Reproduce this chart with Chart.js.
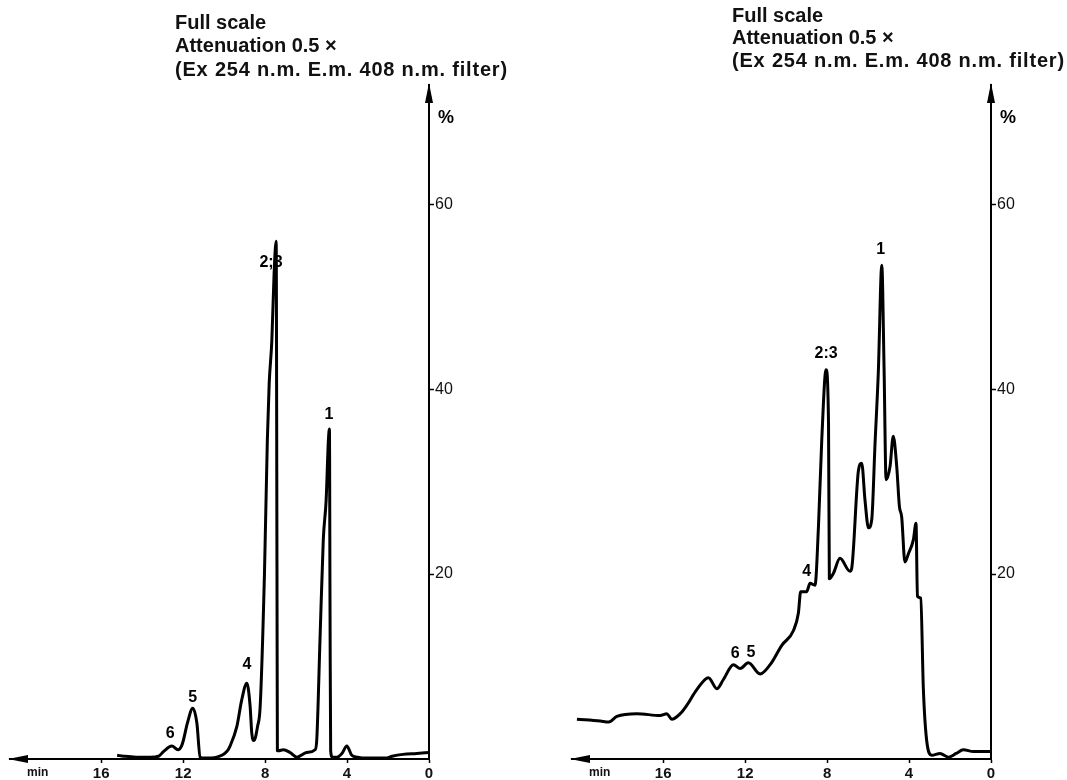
<!DOCTYPE html>
<html lang="en">
<head>
<meta charset="utf-8">
<title>Cromatogramas</title>
<script src="https://cdn.jsdelivr.net/npm/chart.js@4.4.1/dist/chart.umd.min.js"></script>
<style>
  html, body { margin: 0; padding: 0; background: #ffffff; }
  body { position: relative; width: 1067px; height: 780px; overflow: hidden; font-family: 'Liberation Sans', Arial, sans-serif; color: #111; }
  canvas { position: absolute; top: 0; }
  #graficoEsq { left: 0; }
  #graficoDir { left: 533px; }
  .titulo { position: absolute; margin: 0; font-size: 20px; font-weight: bold; line-height: 1; white-space: nowrap; }
  .titulo.filtro { letter-spacing: 0.8px; }
</style>
</head>
<body>
<canvas id="graficoEsq" width="533" height="780"></canvas>
<canvas id="graficoDir" width="534" height="780"></canvas>
<div id="tituloEsq"></div>
<div id="tituloDir"></div>

<script>
const tempoEsq = [0.0, 0.6, 1.27, 1.8, 2.11, 2.7, 3.04, 3.5, 3.77, 4.01, 4.25, 4.50, 4.72, 4.80, 4.83, 4.86, 4.91, 5.02, 5.16, 5.32, 5.48, 5.56, 5.97, 6.45, 6.78, 7.11, 7.35, 7.40, 7.42, 7.46, 7.56, 7.67, 7.80, 7.89, 8.03, 8.24, 8.37, 8.54, 8.65, 8.73, 8.89, 9.14, 9.38, 9.71, 9.87, 10.36, 11.01, 11.17, 11.33, 11.53, 11.79, 11.99, 12.08, 12.25, 12.55, 12.96, 13.2, 13.61, 14.3, 14.9, 15.22];
const sinalEsq = [0.7, 0.6, 0.5, 0.3, 0.1, 0.1, 0.1, 0.2, 0.4, 1.4, 0.6, 0.2, 0.2, 0.9, 15.9, 35.7, 34.5, 28.0, 23.7, 12.9, 2.0, 1.0, 0.7, 0.2, 0.7, 1.0, 0.9, 0.9, 20.7, 56.0, 52.5, 45.3, 40.6, 34.5, 20.1, 5.7, 3.5, 2.0, 2.8, 5.7, 8.2, 6.4, 3.5, 1.4, 0.8, 0.2, 0.1, 0.2, 3.9, 5.5, 3.9, 2.0, 1.4, 1.0, 1.4, 0.8, 0.3, 0.2, 0.2, 0.3, 0.4];

const tempoDir = [0.0, 0.86, 1.35, 1.7, 2.08, 2.49, 2.89, 3.14, 3.30, 3.43, 3.59, 3.66, 3.79, 4.03, 4.20, 4.36, 4.47, 4.60, 4.77, 4.93, 5.12, 5.22, 5.33, 5.50, 5.66, 5.82, 5.98, 6.15, 6.31, 6.47, 6.80, 6.88, 7.37, 7.69, 7.89, 7.93, 8.05, 8.26, 8.42, 8.59, 8.83, 9.0, 9.29, 9.40, 9.64, 10.21, 10.78, 11.27, 11.84, 12.24, 12.57, 13.06, 13.38, 13.79, 14.36, 14.85, 15.17, 15.58, 15.82, 16.15, 17.28, 18.26, 18.66, 19.07, 20.21];
const sinalDir = [0.8, 0.8, 1.0, 0.6, 0.2, 0.6, 0.4, 2.0, 7.5, 17.4, 17.6, 25.5, 23.7, 22.2, 21.3, 26.2, 27.3, 31.6, 34.9, 31.6, 30.2, 42.4, 53.4, 41.8, 34.1, 25.9, 25.0, 28.0, 32.0, 31.2, 20.6, 20.3, 21.7, 20.1, 19.5, 36.3, 42.1, 34.5, 25.2, 18.8, 19.0, 18.1, 18.1, 15.8, 13.9, 12.3, 10.2, 9.2, 10.4, 9.8, 10.2, 8.6, 7.6, 8.8, 7.5, 5.8, 4.9, 4.3, 4.9, 4.7, 4.9, 4.6, 4.0, 4.1, 4.3];

// Marcas dos eixos
const ticksTempo = [0, 4, 8, 12, 16];
const tempoRotuloMin = 19.1;
const ticksPercent = [20, 40, 60];

// Picos numerados (nome, tempo, altura do texto em %)
const rotulosEsq = ['1', '2;3', '4', '5', '6'];
const tempoRotulosEsq = [4.88, 7.71, 8.89, 11.53, 12.63];
const alturaRotulosEsq = [37.2, 53.7, 10.2, 6.6, 2.8];

const rotulosDir = ['1', '2:3', '4', '5', '6'];
const tempoRotulosDir = [5.38, 8.05, 9.0, 11.71, 12.49];
const alturaRotulosDir = [55.1, 43.9, 20.3, 11.5, 11.4];

const linhasTitulo = ['Full scale', 'Attenuation 0.5 \u00d7', '(Ex 254 n.m. E.m. 408 n.m. filter)'];

const fonte = "'Liberation Sans', Arial, sans-serif";

// Setas dos eixos e o sinal de %
const pluginSetas = {
  id: 'setas',
  afterDraw(chart) {
    const { ctx, chartArea: area } = chart;
    ctx.save();
    ctx.fillStyle = '#000';
    ctx.beginPath();
    ctx.moveTo(area.left - 2, area.bottom);
    ctx.lineTo(area.left + 18, area.bottom - 4);
    ctx.lineTo(area.left + 18, area.bottom + 4);
    ctx.closePath();
    ctx.fill();

    ctx.beginPath();
    ctx.moveTo(area.right, area.top - 2);
    ctx.lineTo(area.right - 4, area.top + 18);
    ctx.lineTo(area.right + 4, area.top + 18);
    ctx.closePath();
    ctx.fill();

    ctx.font = 'bold 18px ' + fonte;
    ctx.textAlign = 'left';
    ctx.textBaseline = 'middle';
    ctx.fillText('%', area.right + 9, area.top + 33);
    ctx.restore();
  }
};

// Numeração dos picos
const pluginPicos = {
  id: 'picos',
  afterDatasetsDraw(chart, args, opts) {
    const { ctx, scales: { x, y } } = chart;
    ctx.save();
    ctx.font = 'bold 16px ' + fonte;
    ctx.fillStyle = '#000';
    ctx.textAlign = 'center';
    ctx.textBaseline = 'middle';
    opts.nomes.forEach((nome, i) => {
      ctx.fillText(nome, x.getPixelForValue(opts.tempos[i]), y.getPixelForValue(opts.alturas[i]));
    });
    ctx.restore();
  }
};

function criarCromatograma(idCanvas, tempos, sinal, picos, margemEsq, larguraEixoY) {
  const ctx = document.getElementById(idCanvas).getContext('2d');
  return new Chart(ctx, {
    type: 'line',
    data: {
      datasets: [{
        data: tempos.map((t, i) => ({ x: t, y: sinal[i] })),
        borderColor: '#000',
        borderWidth: 3,
        pointRadius: 0,
        fill: false,
        cubicInterpolationMode: 'monotone',
        borderJoinStyle: 'round',
        clip: false
      }]
    },
    options: {
      responsive: false,
      animation: false,
      layout: { padding: { top: 85, left: margemEsq, right: 0, bottom: 0 } },
      plugins: {
        legend: { display: false },
        tooltip: { enabled: false },
        picos: picos
      },
      scales: {
        x: {
          type: 'linear',
          reverse: true,
          min: 0,
          max: 20.45,
          afterBuildTicks: s => { s.ticks = ticksTempo.concat([tempoRotuloMin]).map(v => ({ value: v })); },
          afterFit: s => { s.height = 21; },
          border: { display: true, color: '#000', width: 2 },
          grid: {
            drawOnChartArea: false,
            tickLength: 4,
            tickWidth: 1.5,
            tickColor: c => (c.tick && c.tick.value === tempoRotuloMin) ? 'rgba(0,0,0,0)' : '#000'
          },
          ticks: {
            autoSkip: false,
            maxRotation: 0,
            padding: 2,
            color: '#111',
            font: c => (c.tick && c.tick.value === tempoRotuloMin)
              ? { family: fonte, size: 12, weight: 'bold' }
              : { family: fonte, size: 15, weight: 'bold' },
            callback: v => v === tempoRotuloMin ? 'min' : v
          }
        },
        y: {
          type: 'linear',
          position: 'right',
          min: 0,
          max: 72.9,
          afterBuildTicks: s => { s.ticks = ticksPercent.map(v => ({ value: v })); },
          afterFit: s => { s.width = larguraEixoY; },
          border: { display: true, color: '#000', width: 2 },
          grid: { drawOnChartArea: false, tickLength: 5, tickWidth: 1.5, tickColor: '#000' },
          ticks: { padding: 1, color: '#111', font: { family: fonte, size: 16 } }
        }
      }
    },
    plugins: [pluginSetas, pluginPicos]
  });
}

// Títulos (texto HTML)
function montarTitulo(idDiv, esquerda, topos) {
  const div = document.getElementById(idDiv);
  linhasTitulo.forEach((linha, i) => {
    const el = document.createElement('div');
    el.className = i === 2 ? 'titulo filtro' : 'titulo';
    el.style.left = esquerda + 'px';
    el.style.top = topos[i] + 'px';
    el.textContent = linha;
    div.appendChild(el);
  });
}

document.addEventListener('DOMContentLoaded', () => {
  criarCromatograma('graficoEsq', tempoEsq, sinalEsq,
    { nomes: rotulosEsq, tempos: tempoRotulosEsq, alturas: alturaRotulosEsq }, 10, 104);
  criarCromatograma('graficoDir', tempoDir, sinalDir,
    { nomes: rotulosDir, tempos: tempoRotulosDir, alturas: alturaRotulosDir }, 39, 76);
  montarTitulo('tituloEsq', 175, [12, 35, 59]);
  montarTitulo('tituloDir', 732, [5, 27, 50]);
});
</script>
</body>
</html>
